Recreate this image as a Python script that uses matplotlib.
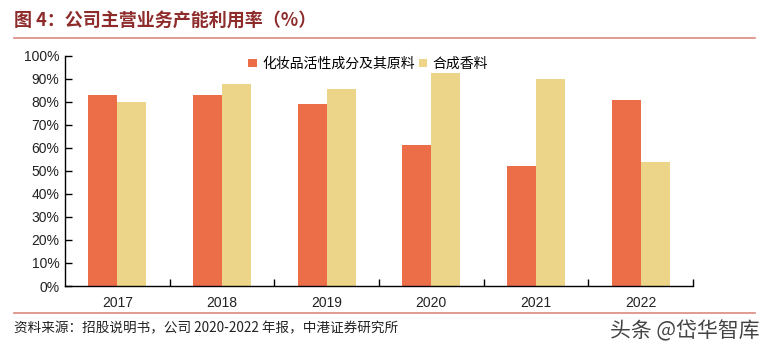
import numpy as np
import matplotlib.pyplot as plt
from matplotlib.ticker import PercentFormatter

plt.rcParams['font.family'] = ['Noto Sans CJK SC', 'DejaVu Sans']

# data (%)
years = ['2017', '2018', '2019', '2020', '2021', '2022']
cosmetic = [83, 83, 79, 61.3, 52.2, 80.7]      # 化妆品活性成分及其原料
fragrance = [79.8, 88, 85.8, 92.5, 90, 53.8]   # 合成香料
series_names = ['化妆品活性成分及其原料', '合成香料']

c_orange = '#EC6E48'
c_yellow = '#ECD589'
c_line = '#D98A80'

fig = plt.figure(figsize=(7.67, 3.53), dpi=100)
ax = fig.add_axes([0.0847, 0.1898, 0.8188, 0.6516])

x = np.arange(len(years))
w = 0.277
ax.bar(x - w / 2, cosmetic, w, color=c_orange, label=series_names[0])
ax.bar(x + w / 2, fragrance, w, color=c_yellow, label=series_names[1])

ax.set_xlim(-0.5, len(years) - 0.5)
ax.set_ylim(0, 100)
ax.set_yticks(np.arange(0, 101, 10))
ax.yaxis.set_major_formatter(PercentFormatter(decimals=0))
ax.set_xticks(x)
ax.set_xticklabels(years)
ax.set_xticks(np.arange(0.5, len(years), 1), minor=True)
ax.tick_params(axis='x', which='major', length=0, pad=7, labelsize=10, labelcolor='#222222')
ax.tick_params(axis='x', which='minor', direction='in', length=5, width=1)
ax.tick_params(axis='y', direction='in', length=5, width=1, labelsize=10, labelcolor='#222222', pad=4)
for lab in ax.get_xticklabels() + ax.get_yticklabels():
    lab.set_fontfamily('Liberation Sans')
for s in ['top', 'right']:
    ax.spines[s].set_visible(False)
for s in ['left', 'bottom']:
    ax.spines[s].set_linewidth(1)

ax.legend(loc='upper left', bbox_to_anchor=(0.272, 1.05), ncol=2, frameon=False,
          fontsize=10, handlelength=0.6, handleheight=0.6, handletextpad=0.4,
          columnspacing=0.3)

# title, rules, source note
fig.text(0.018, 0.942, '图 4：公司主营业务产能利用率（%）', fontsize=13, fontweight='bold',
         color='#8E2B2B', va='center')
fig.add_artist(plt.Line2D([0.018, 0.985], [0.893, 0.893], color=c_line, lw=1.2))
fig.add_artist(plt.Line2D([0.018, 0.985], [0.113, 0.113], color=c_line, lw=1.2))
fig.text(0.018, 0.07, '资料来源：招股说明书，公司 2020-2022 年报，中港证券研究所',
         fontsize=9.8, style='italic', color='#222222', va='center')
fig.text(0.99, 0.062, '头条 @岱华智库', fontsize=15, color='#444444', ha='right', va='center')

fig.savefig('out.png', dpi=100)
